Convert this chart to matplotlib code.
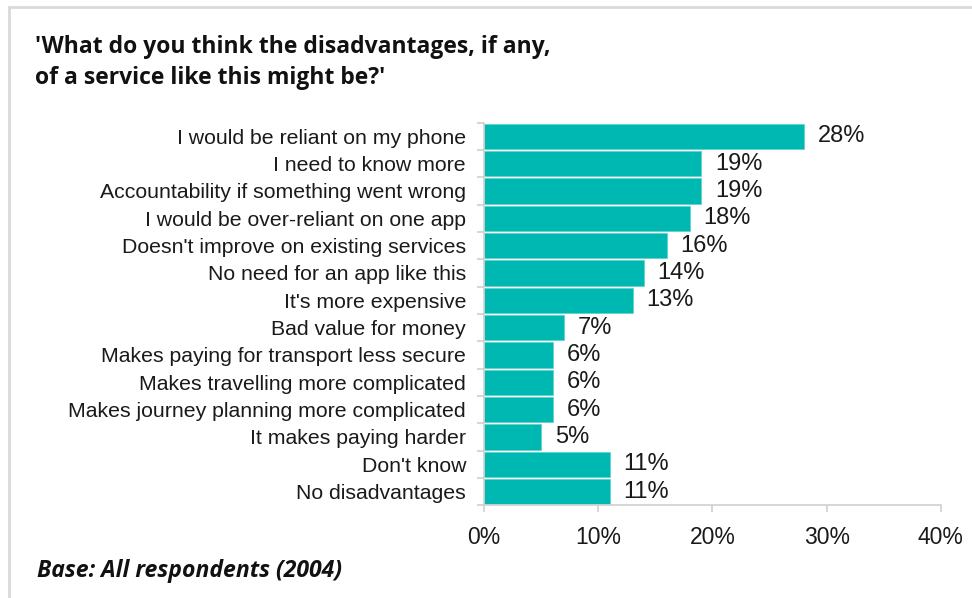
import matplotlib.pyplot as plt
from matplotlib.patches import Rectangle

categories = ["I would be reliant on my phone", "I need to know more",
              "Accountability if something went wrong", "I would be over-reliant on one app",
              "Doesn't improve on existing services", "No need for an app like this",
              "It's more expensive", "Bad value for money",
              "Makes paying for transport less secure", "Makes travelling more complicated",
              "Makes journey planning more complicated", "It makes paying harder",
              "Don't know", "No disadvantages"]
values = [28, 19, 19, 18, 16, 14, 13, 7, 6, 6, 6, 5, 11, 11]
xticks = [0, 10, 20, 30, 40]

fig = plt.figure(figsize=(9.72, 5.98), dpi=100)
ax = fig.add_axes([0.498, 0.155, 0.47, 0.640])

pos = list(range(len(categories)))
ax.barh(pos, values, height=0.93, color='#00b8b2', edgecolor='#5fd3cf', linewidth=0.6)
ax.set_ylim(len(categories) - 0.5, -0.5)
ax.set_xlim(0, 40)

ax.set_yticks(pos)
ax.set_yticklabels(categories, fontsize=15.3, family='Liberation Sans', color='#1a1a1a')
ax.set_yticks([p + 0.5 for p in range(-1, len(categories))], minor=True)
ax.tick_params(axis='y', which='major', length=0, pad=13)
ax.tick_params(axis='y', which='minor', length=5, color='#d0d0d0', width=1.2)

ax.set_xticks(xticks)
ax.set_xticklabels([f"{t}%" for t in xticks], fontsize=16.5, family='Liberation Sans', color='#1a1a1a')
ax.tick_params(axis='x', length=5, color='#d0d0d0', width=1.2, pad=10)

for s in ['top', 'right']:
    ax.spines[s].set_visible(False)
for s in ['left', 'bottom']:
    ax.spines[s].set_color('#d0d0d0')
    ax.spines[s].set_linewidth(1.2)

for p, v in zip(pos, values):
    ax.text(v + 1.2, p, f"{v}%", va='center', ha='left', fontsize=17,
            family='Liberation Sans', color='#1a1a1a')

fig.text(0.036, 0.896, "'What do you think the disadvantages, if any,\nof a service like this might be?'",
         fontsize=16.5, fontweight='bold', family='Open Sans', va='center', ha='left',
         linespacing=1.38, color='#111111')
fig.text(0.038, 0.045, "Base: All respondents (2004)", fontsize=16.6, fontweight='bold',
         style='italic', family='Open Sans', va='center', ha='left', color='#111111')

# outer frame lines (top and left)
fig.add_artist(Rectangle((0.009, -0.01), 1.2, 0.998, transform=fig.transFigure,
                         fill=False, edgecolor='#d9d9d9', linewidth=2))

fig.savefig('out.png', dpi=100)
